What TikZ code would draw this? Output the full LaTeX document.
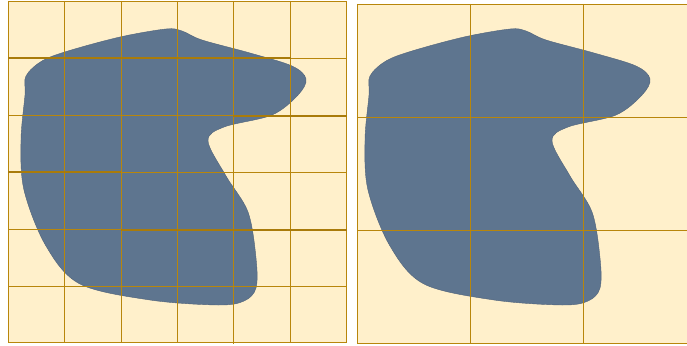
\documentclass[tikz,border=0pt]{standalone}
\usetikzlibrary{calc}
\definecolor{cream}{HTML}{FFF0CB}
\definecolor{ochre}{HTML}{B8860B}
\definecolor{slateblue}{HTML}{5E758F}
\tikzset{
  gridln/.style={draw=ochre, line width=1.3pt},
  seam/.style={draw=ochre!92!black, line width=2.2pt},
  region/.style={fill=slateblue, draw=slateblue!85!black, line width=0.4pt},
}
\newcommand{\blob}{%
  \filldraw[region] plot[smooth cycle, tension=0.55] coordinates {
    (26,76) (42,61) (68,51) (120,37) (166,29) (182,31) (202,40) (250,53)
    (292,66) (306,79) (298,95) (272,115) (224,127) (208,141) (226,176)
    (248,212) (256,258) (256,288) (244,301) (218,305) (150,300) (80,284)
    (46,246) (24,190) (21,140) (25,95)};}

\begin{document}
\begin{tikzpicture}[x=1pt, y=-1pt]
  \useasboundingbox (0,0) rectangle (687,345);

  % fine grid
  \fill[cream] (8,1) rectangle (347,343);
  \blob
  \foreach \c in {8.5,64.5,121.5,177.5,233.5,290.5,346.5}
    \draw[gridln] (\c,1) -- (\c,343);
  \foreach \r in {1.5,58.5,115.5,172.5,229.5,286.5,342.5}
    \draw[gridln] (8,\r) -- (347,\r);
  \draw[gridln] (233.5,300) -- (233.5,344);
  \draw[seam] (8,58) -- (291,58);
  \draw[seam] (233,116) -- (347,116);
  \draw[seam] (8,172) -- (121,172);
  \draw[seam] (121,230) -- (347,230);

  % coarse grid
  \fill[cream] (357,4) rectangle (696,344);
  \begin{scope}[shift={(344,0)}]
    \blob
  \end{scope}
  \foreach \c in {357.5,470.5,583.5}
    \draw[gridln] (\c,4) -- (\c,344);
  \foreach \r in {4.5,117.5,230.5,343.5}
    \draw[gridln] (357,\r) -- (696,\r);
\end{tikzpicture}
\end{document}
